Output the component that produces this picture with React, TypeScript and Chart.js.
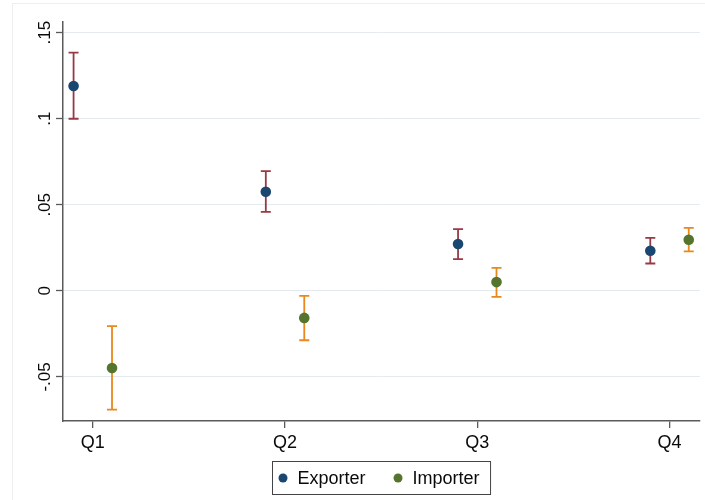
import React, { useEffect, useRef } from "react";
import { Chart, registerables } from "chart.js";

Chart.register(...registerables);

// ---- data ----
const quarters = ["Q1", "Q2", "Q3", "Q4"];
const exporterEst = [0.119, 0.0576, 0.0272, 0.0233];
const exporterLo = [0.1, 0.0459, 0.0184, 0.0159];
const exporterHi = [0.1384, 0.0696, 0.0359, 0.0308];
const importerEst = [-0.0448, -0.0157, 0.0051, 0.0297];
const importerLo = [-0.069, -0.0287, -0.0035, 0.0229];
const importerHi = [-0.0205, -0.0029, 0.0134, 0.0366];
const yTickValues = [-0.05, 0, 0.05, 0.1, 0.15];
const yTickLabels = ["-.05", "0", ".05", ".1", ".15"];
const seriesNames = ["Exporter", "Importer"];

// ---- styles ----
const FONT = "Arial, 'Liberation Sans', sans-serif";
const AXIS_COLOR = "#5a5a5a";
const GRID_COLOR = "#e3ebee";
const TEXT_COLOR = "#0a0a0a";
const POINT_COLORS = ["#1a476f", "#55752f"];
const CI_COLORS = ["#983a46", "#e8891e"];
const X_OFFSETS = [-0.1, 0.1];

const errorBarPlugin = {
  id: "errorBars",
  beforeDatasetsDraw(chart: any) {
    const { ctx, scales } = chart;
    const xs = scales.x;
    const ys = scales.y;
    chart.data.datasets.forEach((ds: any) => {
      ctx.save();
      ctx.strokeStyle = ds.ciColor;
      ctx.lineWidth = 1.8;
      ds.data.forEach((pt: any, i: number) => {
        const x = xs.getPixelForValue(pt.x);
        const yl = ys.getPixelForValue(ds.lo[i]);
        const yh = ys.getPixelForValue(ds.hi[i]);
        const cap = 5;
        ctx.beginPath();
        ctx.moveTo(x, yl);
        ctx.lineTo(x, yh);
        ctx.moveTo(x - cap, yl);
        ctx.lineTo(x + cap, yl);
        ctx.moveTo(x - cap, yh);
        ctx.lineTo(x + cap, yh);
        ctx.stroke();
      });
      ctx.restore();
    });
  },
};

const framePlugin = {
  id: "frame",
  beforeDraw(chart: any) {
    const { ctx } = chart;
    ctx.save();
    ctx.fillStyle = "#ffffff";
    ctx.fillRect(0, 0, chart.width, chart.height);
    ctx.strokeStyle = "#eeeeee";
    ctx.lineWidth = 1;
    ctx.strokeRect(12.5, 3.5, chart.width, chart.height);
    ctx.restore();
  },
};

const yLabelPlugin = {
  id: "yLabels",
  afterDraw(chart: any) {
    const { ctx } = chart;
    const ys = chart.scales.y;
    ctx.save();
    ctx.fillStyle = TEXT_COLOR;
    ctx.font = `17px ${FONT}`;
    ctx.textAlign = "center";
    ctx.textBaseline = "alphabetic";
    yTickValues.forEach((v, i) => {
      const y = ys.getPixelForValue(v);
      ctx.save();
      ctx.translate(50, y);
      ctx.rotate(-Math.PI / 2);
      ctx.fillText(yTickLabels[i], 0, 0);
      ctx.restore();
    });
    ctx.restore();
  },
};

const legendPlugin = {
  id: "stataLegend",
  afterDraw(chart: any) {
    const { ctx, chartArea } = chart;
    ctx.save();
    ctx.font = `18px ${FONT}`;
    const padL = 6;
    const dotD = 9;
    const gapDT = 10;
    const itemGap = 28;
    const padR = 11;
    const widths = chart.data.datasets.map((d: any) => ctx.measureText(d.label).width);
    let total = padL + padR + itemGap * (widths.length - 1);
    widths.forEach((w: number) => (total += dotD + gapDT + w));
    const cx = (chartArea.left + chartArea.right) / 2;
    const left = Math.round(cx - total / 2) + 0.5;
    const top = 461.5;
    const h = 33;
    ctx.strokeStyle = "#444444";
    ctx.lineWidth = 1;
    ctx.strokeRect(left, top, total, h);
    let x = left + padL;
    const cy = top + h / 2;
    chart.data.datasets.forEach((d: any, i: number) => {
      ctx.fillStyle = d.backgroundColor;
      ctx.beginPath();
      ctx.arc(x + dotD / 2, cy, dotD / 2, 0, Math.PI * 2);
      ctx.fill();
      x += dotD + gapDT;
      ctx.fillStyle = TEXT_COLOR;
      ctx.textAlign = "left";
      ctx.textBaseline = "middle";
      ctx.fillText(d.label, x, cy + 1);
      x += widths[i] + itemGap;
    });
    ctx.restore();
  },
};

export default function App() {
  const ref = useRef<HTMLCanvasElement | null>(null);

  useEffect(() => {
    if (!ref.current) return;
    const ests = [exporterEst, importerEst];
    const los = [exporterLo, importerLo];
    const his = [exporterHi, importerHi];
    const datasets = seriesNames.map((name, s) => ({
      label: name,
      data: quarters.map((_, i) => ({ x: i + 1 + X_OFFSETS[s], y: ests[s][i] })),
      lo: los[s],
      hi: his[s],
      ciColor: CI_COLORS[s],
      backgroundColor: POINT_COLORS[s],
      borderColor: POINT_COLORS[s],
      pointRadius: 5.3,
      pointBorderWidth: 0,
      showLine: false,
    }));

    const chart = new Chart(ref.current, {
      type: "scatter",
      data: { datasets } as any,
      plugins: [framePlugin, errorBarPlugin, yLabelPlugin, legendPlugin],
      options: {
        responsive: false,
        animation: false,
        devicePixelRatio: 1,
        layout: { padding: { top: 22, right: 4.5, left: 0, bottom: 0 } },
        plugins: {
          legend: { display: false },
          tooltip: { enabled: false },
        },
        scales: {
          x: {
            type: "linear",
            min: 0.845,
            max: 4.157,
            afterBuildTicks: (scale: any) => {
              scale.ticks = quarters.map((_, i) => ({ value: i + 1 }));
            },
            afterFit: (scale: any) => {
              scale.height = 79;
            },
            ticks: {
              autoSkip: false,
              maxRotation: 0,
              minRotation: 0,
              padding: 4,
              color: TEXT_COLOR,
              font: { family: FONT, size: 18 },
              callback: (v: any) => quarters[Math.round(v) - 1] ?? "",
            },
            grid: {
              drawOnChartArea: false,
              drawTicks: true,
              tickLength: 7,
              color: AXIS_COLOR,
              lineWidth: 1.3,
            },
            border: { display: true, color: AXIS_COLOR, width: 1.5 },
          },
          y: {
            type: "linear",
            min: -0.0756,
            max: 0.1562,
            afterBuildTicks: (scale: any) => {
              scale.ticks = yTickValues.map((v) => ({ value: v }));
            },
            afterFit: (scale: any) => {
              scale.width = 63;
            },
            ticks: { display: false },
            grid: {
              color: GRID_COLOR,
              lineWidth: 1,
              drawTicks: true,
              tickLength: 7,
              tickColor: AXIS_COLOR,
              tickWidth: 1.3,
            },
            border: { display: true, color: AXIS_COLOR, width: 1.5 },
          },
        },
      } as any,
    });
    return () => chart.destroy();
  }, []);

  return (
    <div style={{ position: "absolute", left: 0, top: 0, width: 705, height: 500 }}>
      <canvas ref={ref} width={705} height={500} />
    </div>
  );
}
